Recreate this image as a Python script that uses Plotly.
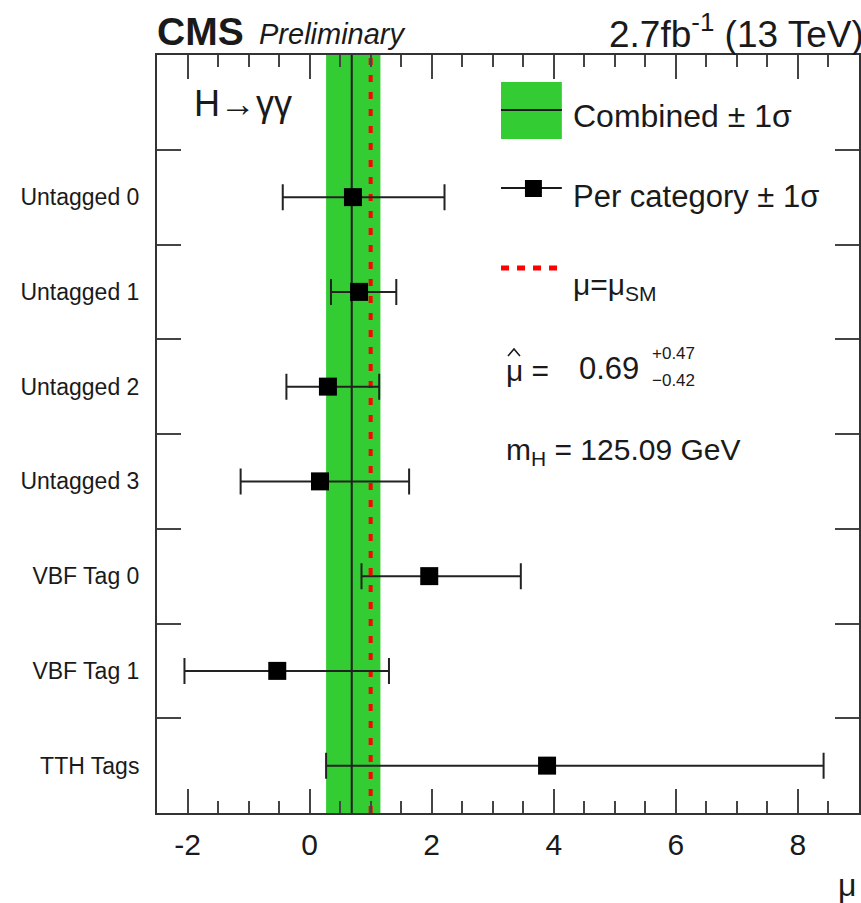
import plotly.graph_objects as go

# Per-category signal strength fits (best fit and asymmetric 1-sigma errors)
categories = ["Untagged 0", "Untagged 1", "Untagged 2", "Untagged 3",
              "VBF Tag 0", "VBF Tag 1", "TTH Tags"]
mu_cat = [0.71, 0.81, 0.30, 0.17, 1.96, -0.53, 3.89]
err_down = [1.15, 0.46, 0.68, 1.30, 1.11, 1.52, 3.62]
err_up = [1.50, 0.61, 0.84, 1.46, 1.50, 1.83, 4.53]

# Combined fit and SM expectation
mu_comb = 0.69
comb_up = 0.47
comb_down = 0.42
mu_sm = 1.0

x_major = [-2, 0, 2, 4, 6, 8]

FONT = "Liberation Sans, Arial, Helvetica, sans-serif"
GREEN = "#33cc33"
INK = "#1a1a1a"

W, H = 861, 903
L, R, T, B = 157, 0, 55, 90
PW = W - L - R
PH = H - T - B

# rows: category i sits at the centre of band i (top band left empty for the label)
n = len(categories)
y_pos = [n - i - 0.5 for i in range(n)]
y_top = n + 1


def px(xp):
    return (xp - L) / PW


def py(yp):
    return (H - B - yp) / PH


fig = go.Figure()

# combined +-1 sigma band
lo, hi = mu_comb - comb_down, mu_comb + comb_up
fig.add_trace(go.Scatter(
    x=[lo, hi, hi, lo, lo], y=[0, 0, y_top, y_top, 0],
    fill="toself", fillcolor=GREEN, line=dict(width=0),
    mode="lines", hoverinfo="skip", showlegend=False))

# combined best fit
fig.add_trace(go.Scatter(
    x=[mu_comb, mu_comb], y=[0, y_top], mode="lines",
    line=dict(color=INK, width=2), showlegend=False))

# SM expectation
fig.add_trace(go.Scatter(
    x=[mu_sm, mu_sm], y=[0, y_top], mode="lines",
    line=dict(color="#ff0000", width=4, dash="7px,10px"), showlegend=False))

# per-category points
fig.add_trace(go.Scatter(
    x=mu_cat, y=y_pos, mode="markers",
    marker=dict(symbol="square", size=18, color="black"),
    error_x=dict(type="data", symmetric=False, array=err_up, arrayminus=err_down,
                 color="#222222", thickness=2, width=13),
    showlegend=False))

fig.update_xaxes(
    range=[-2.5, 9.0], tickvals=x_major, ticktext=[str(v) for v in x_major],
    ticks="inside", ticklen=24, tickwidth=1.5, tickcolor="#444",
    minor=dict(dtick=0.5, tick0=0, ticks="inside", ticklen=12, tickwidth=1.5, tickcolor="#444"),
    showline=True, linecolor="#333", linewidth=2, mirror="ticks",
    showgrid=False, zeroline=False,
    tickfont=dict(family=FONT, size=30, color=INK), ticklabelstandoff=4)

fig.update_yaxes(
    range=[0, y_top], tickvals=y_pos, ticktext=categories,
    ticks="", ticklen=0,
    minor=dict(tickvals=list(range(1, y_top)), ticks="inside", ticklen=24,
               tickwidth=1.5, tickcolor="#444"),
    showline=True, linecolor="#333", linewidth=2, mirror="ticks",
    showgrid=False, zeroline=False,
    tickfont=dict(family=FONT, size=23, color=INK), ticklabelstandoff=11)

ann = []


def text(s, x, y, size, xanchor="left", yanchor="middle"):
    ann.append(dict(text=s, x=px(x), y=py(y), xref="paper", yref="paper",
                    xanchor=xanchor, yanchor=yanchor, showarrow=False,
                    font=dict(family=FONT, size=size, color=INK)))


text("<b>CMS</b>", 155, 31, 39)
text("<i>Preliminary</i>", 257, 34, 29)
text("2.7fb<sup>-1</sup> (13 TeV)", 868, 31, 37, xanchor="right")
text("H→γγ", 192, 104, 36)
text("Combined ± 1σ", 572, 116, 32)
text("Per category ± 1σ", 572, 196, 31)
text("μ=μ<sub>SM</sub>", 572, 286, 30)
text("μ =", 505, 370, 30)
text(f"{mu_comb:.2f}", 578, 368, 31)
text(f"+{comb_up:.2f}", 651, 353, 17)
text(f"\u2212{comb_down:.2f}", 651, 380, 17)
text("m<sub>H</sub> = 125.09 GeV", 505, 451, 30)
text("μ", 838, 885, 32)

# hat over the fitted mu symbol
hat = f"M {px(509)},{py(356)} L {px(515)},{py(349)} L {px(521)},{py(356)}"

# legend glyphs
shapes = [
    dict(type="rect", xref="paper", yref="paper", x0=px(502), x1=px(563),
         y0=py(139), y1=py(82), fillcolor=GREEN, line=dict(width=0)),
    dict(type="line", xref="paper", yref="paper", x0=px(502), x1=px(563),
         y0=py(110), y1=py(110), line=dict(color=INK, width=2)),
    dict(type="line", xref="paper", yref="paper", x0=px(502), x1=px(563),
         y0=py(188), y1=py(188), line=dict(color=INK, width=2)),
    dict(type="rect", xref="paper", yref="paper", x0=px(526), x1=px(543),
         y0=py(197), y1=py(180), fillcolor="black", line=dict(width=0)),
    dict(type="line", xref="paper", yref="paper", x0=px(502), x1=px(563),
         y0=py(268), y1=py(268), line=dict(color="#ff0000", width=5, dash="8px,8px")),
    dict(type="path", xref="paper", yref="paper", path=hat,
         line=dict(color=INK, width=1.6)),
]

fig.update_layout(
    width=W, height=H, margin=dict(l=L, r=R, t=T, b=B, pad=0),
    plot_bgcolor="white", paper_bgcolor="white",
    annotations=ann, shapes=shapes, showlegend=False,
    font=dict(family=FONT, color=INK))

fig.write_html("out.html")
